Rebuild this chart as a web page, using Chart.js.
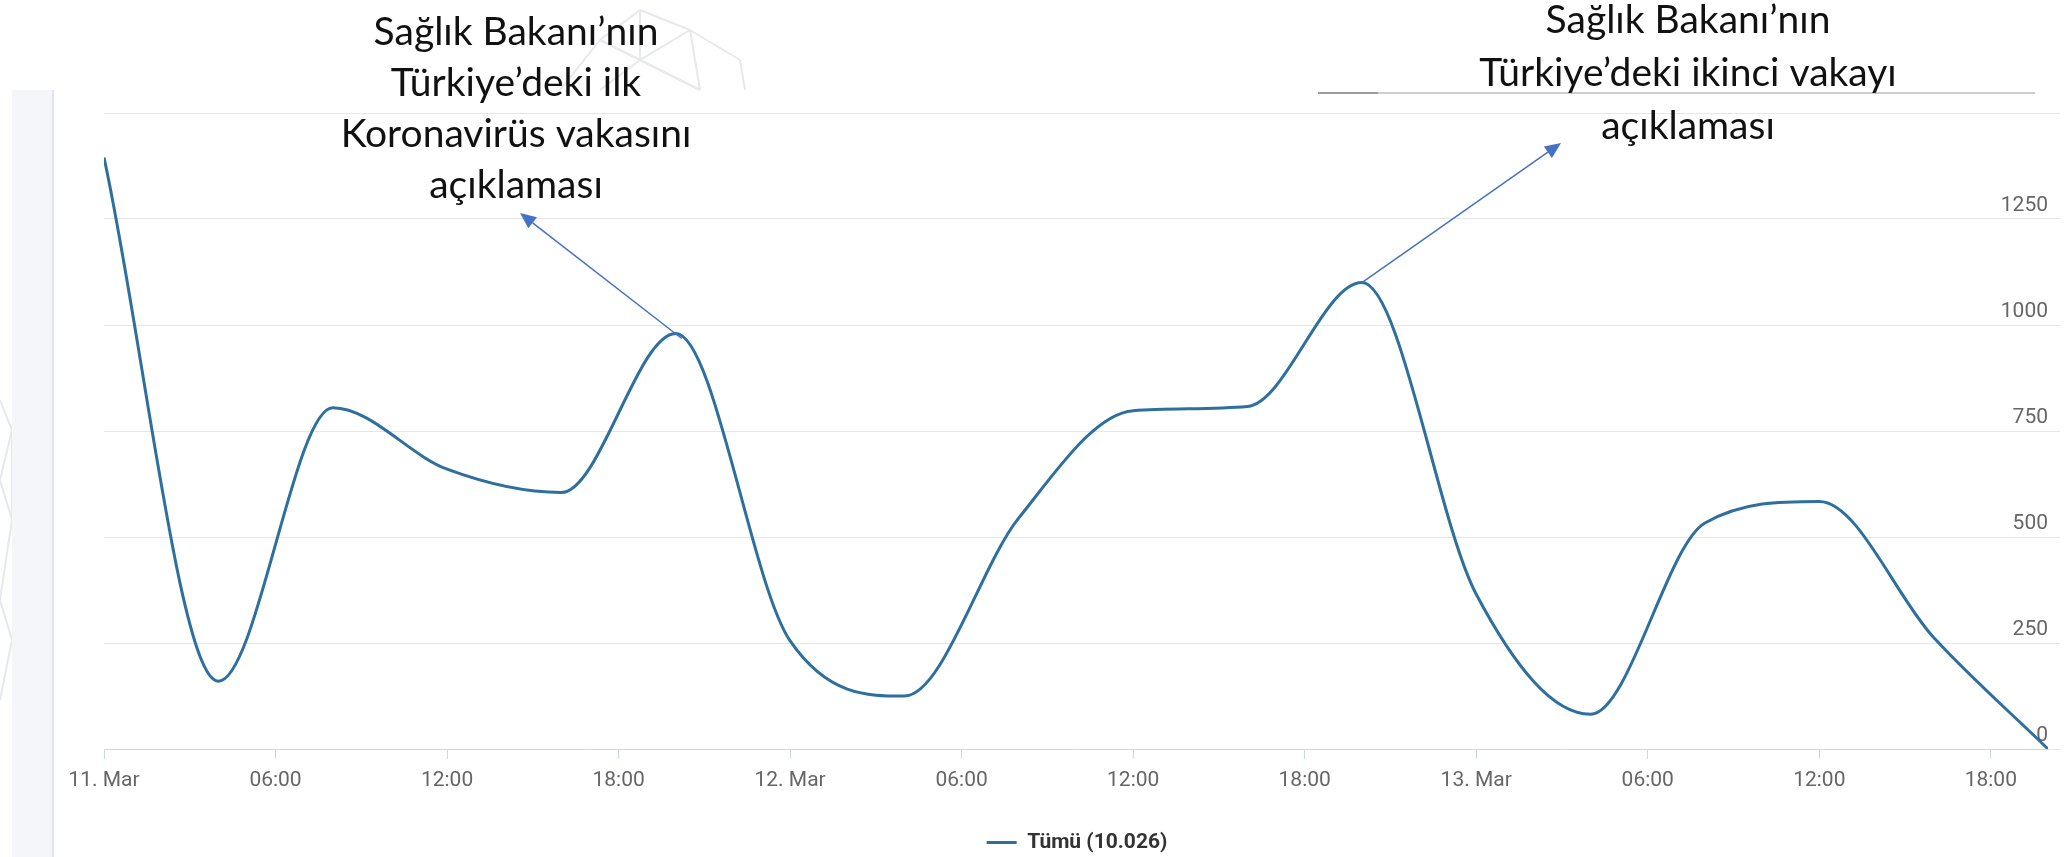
<!DOCTYPE html>
<html>
<head>
<meta charset="utf-8">
<title>Tümü</title>
<script src="https://cdn.jsdelivr.net/npm/chart.js@4.4.1/dist/chart.umd.min.js"></script>
<style>
  html, body { margin: 0; padding: 0; background: #fff; }
  #wrap { position: relative; width: 2070px; height: 857px; }
</style>
</head>
<body>
<div id="wrap"><canvas id="chart"></canvas></div>
<script>
// hours since 11 Mar 00:00, one value every 4 hours
const hours = [0, 4, 8, 12, 16, 20, 24, 28, 32, 36, 40, 44, 48, 52, 56, 60, 64, 68];
const cases = [1395, 160, 805, 660, 605, 980, 255, 125, 545, 798, 808, 1100, 365, 82, 533, 584, 263, 0];

const tickHours = [0, 6, 12, 18, 24, 30, 36, 42, 48, 54, 60, 66];
const tickLabels = ['11. Mar', '06:00', '12:00', '18:00', '12. Mar', '06:00', '12:00', '18:00', '13. Mar', '06:00', '12:00', '18:00'];
const yTicks = [0, 250, 500, 750, 1000, 1250, 1500];

const seriesName = 'Tümü (10.026)';
const note1 = ['Sağlık Bakanı’nın', 'Türkiye’deki ilk', 'Koronavirüs vakasını', 'açıklaması'];
const note2 = ['Sağlık Bakanı’nın', 'Türkiye’deki ikinci vakayı', 'açıklaması'];

const lineColor = '#2f6f9e';
const arrowColor = '#4472c4';

function arrow(ctx, x1, y1, x2, y2) {
  const a = Math.atan2(y2 - y1, x2 - x1);
  const len = 16, half = 7;
  const bx = x2 - len * Math.cos(a), by = y2 - len * Math.sin(a);
  ctx.beginPath();
  ctx.moveTo(x1, y1);
  ctx.lineTo(bx, by);
  ctx.stroke();
  ctx.beginPath();
  ctx.moveTo(x2, y2);
  ctx.lineTo(bx + half * Math.sin(a), by - half * Math.cos(a));
  ctx.lineTo(bx - half * Math.sin(a), by + half * Math.cos(a));
  ctx.closePath();
  ctx.fill();
}

// faint mesh from the slide background
function mesh(ctx, pts, links) {
  ctx.beginPath();
  links.forEach(([a, b]) => {
    ctx.moveTo(pts[a][0], pts[a][1]);
    ctx.lineTo(pts[b][0], pts[b][1]);
  });
  ctx.stroke();
}

// page background, side panel and the stray rule at the top
const backdrop = {
  id: 'backdrop',
  beforeDraw(chart) {
    const ctx = chart.ctx;
    ctx.save();
    ctx.fillStyle = '#fff';
    ctx.fillRect(0, 0, chart.width, chart.height);

    ctx.strokeStyle = '#e6e8eb';
    ctx.lineWidth = 2;
    mesh(ctx,
      [[560, 90], [600, 40], [640, 10], [690, 30], [740, 60], [640, 60], [700, 90], [745, 90], [600, 90]],
      [[0, 1], [1, 2], [2, 3], [3, 4], [1, 5], [5, 3], [5, 6], [3, 6], [4, 7], [5, 8], [2, 5]]);
    mesh(ctx,
      [[0, 400], [12, 430], [0, 480], [12, 520], [0, 600], [12, 640], [0, 700]],
      [[0, 1], [1, 2], [2, 3], [3, 4], [4, 5], [5, 6], [1, 3]]);

    ctx.fillStyle = '#f4f6f9';
    ctx.fillRect(12, 90, 41, chart.height - 90);
    ctx.fillStyle = '#e1e4e8';
    ctx.fillRect(52, 90, 2, chart.height - 90);
    ctx.fillStyle = '#cfcfcf';
    ctx.fillRect(1318, 92, 717, 2);
    ctx.fillStyle = '#9c9c9c';
    ctx.fillRect(1318, 92, 60, 2);
    ctx.restore();
  }
};

// text boxes with arrows pointing from the two peaks
const notes = {
  id: 'notes',
  afterDraw(chart) {
    const {ctx, scales: {x, y}} = chart;
    ctx.save();
    ctx.fillStyle = '#111';
    ctx.font = '39px Lato';
    ctx.textAlign = 'center';
    ctx.textBaseline = 'alphabetic';
    note1.forEach((t, i) => ctx.fillText(t, 516, 45 + i * 51));
    note2.forEach((t, i) => ctx.fillText(t, 1688, 33 + i * 53));

    ctx.strokeStyle = arrowColor;
    ctx.fillStyle = arrowColor;
    ctx.lineWidth = 1.5;
    const p1 = [x.getPixelForValue(hours[5]) + 6, y.getPixelForValue(cases[5]) + 5];
    const p2 = [x.getPixelForValue(hours[11]), y.getPixelForValue(cases[11])];
    arrow(ctx, p1[0], p1[1], 520, 213);
    arrow(ctx, p2[0], p2[1], 1561, 143);
    ctx.restore();
  }
};

new Chart(document.getElementById('chart'), {
  type: 'line',
  data: {
    datasets: [{
      label: seriesName,
      data: hours.map((h, i) => ({x: h, y: cases[i]})),
      borderColor: lineColor,
      backgroundColor: lineColor,
      borderWidth: 3,
      pointRadius: 0,
      cubicInterpolationMode: 'monotone',
      fill: false
    }]
  },
  options: {
    responsive: true,
    maintainAspectRatio: false,
    animation: false,
    layout: { padding: { top: 113, left: 104, right: 20, bottom: -6 } },
    plugins: {
      tooltip: { enabled: false },
      legend: {
        position: 'bottom',
        labels: {
          usePointStyle: true,
          pointStyle: 'line',
          pointStyleWidth: 30,
          padding: 4,
          color: '#333',
          font: { family: 'Roboto', size: 21, weight: 'bold' }
        }
      }
    },
    scales: {
      x: {
        type: 'linear',
        min: 0,
        max: 68,
        afterBuildTicks: s => { s.ticks = tickHours.map(v => ({value: v})); },
        afterFit: s => { s.height = 79; },
        ticks: {
          autoSkip: false,
          maxRotation: 0,
          padding: 9,
          color: '#666',
          font: { family: 'Roboto', size: 21 },
          callback: v => tickLabels[tickHours.indexOf(v)]
        },
        grid: { drawOnChartArea: false, drawTicks: true, tickLength: 10, color: '#ccd6eb' },
        border: { color: '#ccd6eb', width: 1 }
      },
      y: {
        position: 'right',
        min: 0,
        max: 1500,
        afterBuildTicks: s => { s.ticks = yTicks.map(v => ({value: v})); },
        afterFit: s => { s.width = 2; },
        ticks: {
          mirror: true,
          padding: 0,
          labelOffset: -13,
          color: '#666',
          font: { family: 'Roboto', size: 21 },
          callback: v => (v === 1500 ? '' : v)
        },
        grid: { color: '#e6e6e6', lineWidth: 1, drawTicks: true, tickLength: 12 },
        border: { display: false }
      }
    }
  },
  plugins: [backdrop, notes]
});
</script>
</body>
</html>
